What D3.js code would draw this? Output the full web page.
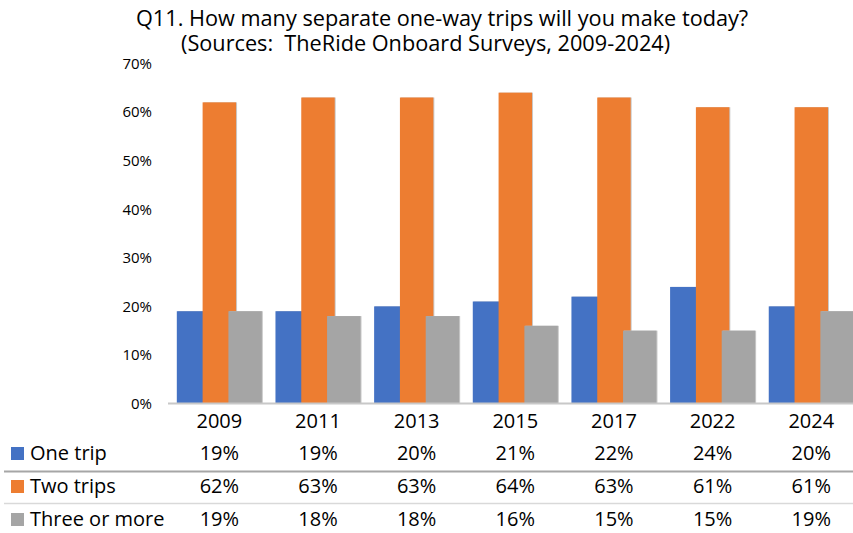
<!DOCTYPE html>
<html>
<head>
<meta charset="utf-8">
<script src="https://cdn.jsdelivr.net/npm/d3@7/dist/d3.min.js"></script>
<style>
  html, body { margin: 0; padding: 0; background: #fff; }
  svg { display: block; font-family: "Open Sans", Lato, sans-serif; }
  text { white-space: pre; }
</style>
</head>
<body>
<svg id="chart" width="853" height="533"></svg>
<script>
// Survey answers by year (percent of riders)
const years = ["2009", "2011", "2013", "2015", "2017", "2022", "2024"];
const oneTrip = [19, 19, 20, 21, 22, 24, 20];
const twoTrips = [62, 63, 63, 64, 63, 61, 61];
const threeOrMore = [19, 18, 18, 16, 15, 15, 19];
const seriesNames = ["One trip", "Two trips", "Three or more"];
const seriesColors = ["#4472c4", "#ed7d31", "#a5a5a5"];
const yTicks = [0, 10, 20, 30, 40, 50, 60, 70];
const titleLines = [
  "Q11. How many separate one-way trips will you make today?",
  "(Sources:  TheRide Onboard Surveys, 2009-2024)"
];

const series = [oneTrip, twoTrips, threeOrMore].map((vals, i) => ({
  name: seriesNames[i],
  color: seriesColors[i],
  values: vals
}));

const svg = d3.select("#chart");
svg.append("rect").attr("width", 853).attr("height", 533).attr("fill", "#fff");

const x = d3.scaleBand().domain(years).range([170, 860.6]).padding(0);
const y = d3.scaleLinear().domain([0, 70]).range([403.5, 63.5]);

const bw = x.bandwidth();
const barW = bw * 0.339;
const step = bw * 0.2615;
const groupW = 2 * step + barW;

// Title
svg.append("text")
  .attr("x", 136).attr("y", 26)
  .attr("font-size", 21.7).attr("fill", "#000")
  .text(titleLines[0]);
svg.append("text")
  .attr("x", 181).attr("y", 50.5)
  .attr("font-size", 21.7).attr("fill", "#000")
  .text(titleLines[1]);

// Y axis labels
const yAxis = d3.axisLeft(y)
  .tickValues(yTicks)
  .tickFormat(d => d + "%")
  .tickSize(0)
  .tickPadding(18);
const gy = svg.append("g").attr("transform", "translate(170,0)").call(yAxis);
gy.select(".domain").remove();
gy.selectAll("text")
  .attr("font-size", 15)
  .attr("fill", "#000")
  .attr("font-family", "'Open Sans', Lato, sans-serif");

// Bars: later series overlap earlier ones
const barsG = svg.append("g");
series.forEach((s, si) => {
  const g = barsG.append("g");
  years.forEach((yr, i) => {
    const x0 = x(yr) + (bw - groupW) / 2 + si * step;
    const top = y(s.values[i]);
    const h = y(0) - top;
    g.append("rect")
      .attr("x", x0 + 1).attr("y", top)
      .attr("width", barW).attr("height", h)
      .attr("fill", "#c9c9c9");
    g.append("rect")
      .attr("x", x0).attr("y", top)
      .attr("width", barW).attr("height", h)
      .attr("fill", s.color);
  });
});

// Category axis line
svg.append("line")
  .attr("x1", 168).attr("x2", 853)
  .attr("y1", 403.5).attr("y2", 403.5)
  .attr("stroke", "#c8c8c8").attr("stroke-width", 2);

// Data table: year header
svg.append("g").selectAll("text")
  .data(years).join("text")
  .attr("x", d => x(d) + bw / 2)
  .attr("y", 428)
  .attr("text-anchor", "middle")
  .attr("font-size", 20)
  .attr("fill", "#000")
  .text(d => d);

// Row separators
svg.append("line")
  .attr("x1", 4).attr("x2", 853).attr("y1", 471.5).attr("y2", 471.5)
  .attr("stroke", "#a6a6a6").attr("stroke-width", 2);
svg.append("line")
  .attr("x1", 4).attr("x2", 853).attr("y1", 503.5).attr("y2", 503.5)
  .attr("stroke", "#d9d9d9").attr("stroke-width", 1.5);

const rowBase = [460, 493, 526];
series.forEach((s, si) => {
  const by = rowBase[si];
  svg.append("rect")
    .attr("x", 11).attr("y", by - 13)
    .attr("width", 13).attr("height", 13)
    .attr("fill", s.color);
  svg.append("text")
    .attr("x", 30).attr("y", by)
    .attr("font-size", 20)
    .attr("fill", "#000")
    .text(s.name);
  svg.append("g").selectAll("text")
    .data(s.values).join("text")
    .attr("x", (d, i) => x(years[i]) + bw / 2)
    .attr("y", by)
    .attr("text-anchor", "middle")
    .attr("font-size", 20)
    .attr("fill", "#000")
    .text(d => d + "%");
});
</script>
</body>
</html>
